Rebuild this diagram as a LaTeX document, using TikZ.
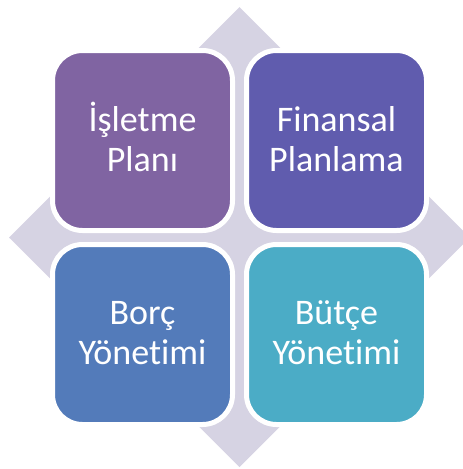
\documentclass[tikz,border=0pt]{standalone}
\usepackage{fontspec}
\setmainfont{Carlito}[RawFeature={-liga;-clig;-dlig}]
\definecolor{bgdiamond}{HTML}{D6D3E3}
\definecolor{cpurple}{HTML}{8064A2}
\definecolor{cindigo}{HTML}{605CAE}
\definecolor{cblue}{HTML}{537BBA}
\definecolor{caqua}{HTML}{4BACC6}
\begin{document}
\begin{tikzpicture}[x=1pt,y=-1pt,
  tile/.style={draw=white, line width=5pt, rounded corners=30pt,
    minimum width=180pt, minimum height=180pt, inner sep=0pt, outer sep=0pt},
  word/.style={text=white, font=\fontsize{36}{40}\selectfont, anchor=base, inner sep=0pt}]
\useasboundingbox (0,0) rectangle (463,469);
% background diamond
\fill[bgdiamond] (239.5,7) coordinate (dt) -- (9,237.5) coordinate (dl)
  -- (239.5,467) coordinate (db) -- (470,237.5) coordinate (dr) -- cycle;
% tiles
\node[tile, fill=cpurple] (tl) at (142.5,140.5) {};
\node[tile, fill=cindigo] (tr) at (336.5,140.5) {};
\node[tile, fill=cblue]   (bl) at (142.5,334.5) {};
\node[tile, fill=caqua]   (br) at (336.5,334.5) {};
% texts
\node[word] (tla) at (142.5,131) {İşletme};
\node[word] (tlb) at (142.5,171.5) {Planı};
\node[word] (tra) at (336.5,131) {Finansal};
\node[word] (trb) at (336.5,171.5) {Planlama};
\node[word] (bla) at (142.5,324.5) {Borç};
\node[word] (blb) at (142.5,364.5) {Yönetimi};
\node[word] (bra) at (336.5,324.5) {Bütçe};
\node[word] (brb) at (336.5,364.5) {Yönetimi};
\end{tikzpicture}
\end{document}
